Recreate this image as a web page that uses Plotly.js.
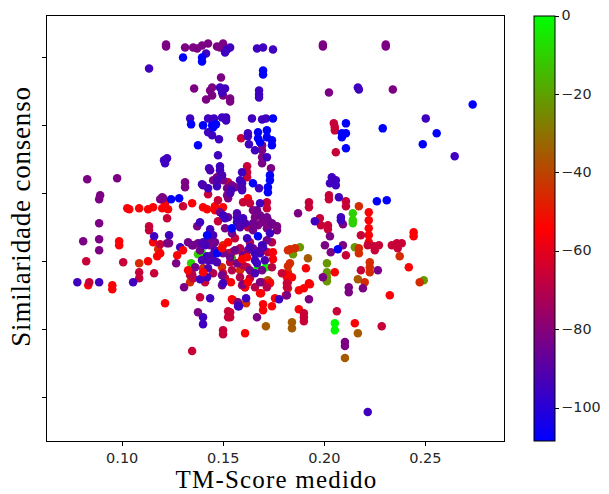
<!DOCTYPE html>
<html><head><meta charset="utf-8"><script src="https://cdn.plot.ly/plotly-3.0.1.min.js"></script>
<style>html,body{margin:0;padding:0;background:#fff}
.g-ytitle{transform:translate(7px,-12px)}
.g-xtitle{transform:translate(1px,0px)}
.xtitle{letter-spacing:1.2px}
.ytitle{letter-spacing:.8px}
.colorbar text{font-size:14.3px !important}</style></head><body><div id="c" style="width:609px;height:494px"></div>
<script>
const blueX=[.1301,.1395,.1395,.1697,.1697,.2734,.1746,.1341,.14,.1445,.1464,.145,.1672,.1672,.1682,.1716,.1716,.1741,.1741,.1375,.2107,.2107,.2087,.2087,.2107,.2289,.2556,.2487,.1647,.1731,.1731,.1721,.1721,.1242,.1282,.1543,.142,.1672,.1469,.2067,.226,.2309];
const blueY=[340,340,336,327,323,293,279,273,272,272,273,270,265,259,255,267,260,257,252,252,274,264,264,260,249,269,264,253,214,222,217,210,205,198,199,169,162,161,144,148,196,197];
const indigoX=[.1519,.1534,.1509,.1415,.1667,.1697,.1746,.1133,.1484,.1509,.1494,.1677,.1677,.1677,.2166,.2171,.1336,.1425,.1454,.1494,.1514,.1514,.1642,.1692,.1711,.1425,.1445,.1479,.1622,.1622,.1627,.1657,.1716,.1474,.1222,.1207,.1212,.2502,.2645,.143,.1484,.1484,.1593,.1583,.1593,.1593,.1395,.1425,.1469,.1538,.1677,.2037,.2028,.2057,.2057,.2072,.2082,.2082,.1953,.1499,.1509,.1385,.1435,.1568,.1568,.1598,.1682,.1618,.1692,.1731,.1287,.141,.142,.1435,.145,.1158,.1232,.1657,.1657,.1682,.1667,.1697,.142,.1385,.0778,.0886,.1054,.1499,.1435,.14,.14,.1573,.1613,.1578,.1776,.2215];
const indigoY=[348,350,345,344,349,350,348,329,310,309,305,307,303,300,310,308,279,279,279,280,280,277,279,278,279,265,262,258,264,261,253,247,240,242,239,237,234,279,241,229,231,227,225,217,214,207,213,209,211,207,209,220,214,217,212,200,180,177,176,182,179,175,168,180,175,179,194,159,152,164,150,152,141,137,137,161,162,144,137,144,134,150,120,118,115,115,115,114,99,80,73,91,99,91,98,-15];
const moreIndigoX=[.1568,.1593,.1534,.1494,.1469,.14,.1435,.1469,.1425,.1395,.1425,.1657,.1706,.1682,.1632,.1459,.1445,.1395,.1583,.1608,.145,.14];
const moreIndigoY=[184,209,204,222,217,212,227,135,137,137,129,124,137,147,150,147,142,154,170,174,162,155];
const purpleX=[.1217,.1217,.1311,.1351,.1371,.1395,.1425,.1469,.1499,.1484,.1993,.1993,.2304,.2304,.1489,.1356,.1445,.1435,.1415,.1445,.1499,.1534,.1534,.2023,.2339,.1692,.1692,.1692,.1692,.0827,.0975,.1311,.1311,.0891,.0886,.1469,.145,.1499,.1484,.1543,.1736,.1188,.1198,.0886,.0807,.0886,.0886,.1222,.1232,.1203,.1524,.1519,.1371,.1509,.1647,.1657,.1721,.1692,.1766,.1766,.1731,.1716,.1672,.1435,.1375,.1346,.1267,.1306,.1598,.1682,.187,.2092,.2028,.2003,.2032,.2092,.1993,.2265,.2121,.2121,.2191,.1815,.1924,.1667,.1375,.1573,.2102,.2102,.1622];
const purpleY=[351,353,350,350,349,352,354,351,354,350,351,353,351,353,320,309,310,307,298,302,302,299,296,305,308,252,247,240,234,218,219,215,210,202,198,220,217,217,222,212,229,198,200,174,156,158,147,154,154,199,199,202,171,169,187,180,177,175,167,171,172,169,172,152,154,152,134,110,113,115,184,173,161,152,145,152,120,127,110,105,109,102,98,80,85,95,55,51,147];
const morePurpleX=[.1558,.1519,.1647,.1558,.1534,.1499,.1361,.1494,.1568,.1632,.1692,.1716,.1647,.1598,.1494,.1385,.1351,.1326,.1459,.1524,.1484,.1682,.1716,.1741,.1667,.1647,.1543,.1425];
const morePurpleY=[210,209,167,147,140,144,130,122,134,127,127,157,149,142,112,147,152,155,155,180,185,182,180,174,187,174,164,157];
const crimsonX=[.1588,.2047,.2052,.2052,.2057,.1618,.1618,.1618,.1524,.1425,.1222,.0822,.1005,.1084,.1084,.1158,.1133,.1133,.1188,.0837,.1301,.1474,.1474,.1598,.1632,.1716,.1716,.1558,.1336,.1351,.141,.1499,.1509,.1534,.1568,.1618,.1632,.1721,.1692,.1385,.2023,.2023,.1924,.1924,.2107,.2107,.1978,.1983,.2018,.2018,.2181,.2107,.2245,.225,.227,.2215,.2334,.2359,.2383,.2363,.2181,.179,.1815,.181,.1815,.1899,.1899,.1899,.2062,.2284,.1524,.1524,.1499,.1499,.1346,.1534,.1534];
const crimsonY=[259,274,270,267,245,231,225,220,215,203,179,136,135,125,119,124,167,171,153,115,191,197,176,195,194,195,189,159,122,119,115,124,119,135,147,130,119,145,115,100,202,198,195,190,196,191,179,172,172,168,162,142,151,147,152,152,152,154,154,149,127,124,114,102,110,84,80,76,86,71,86,80,67,63,46,85,80];
const moreCrimsonX=[.1632,.1583,.1543,.1524,.1346,.145,.1598,.1583,.1741,.1741,.1657,.1716,.1593,.1543,.1622];
const moreCrimsonY=[155,149,145,144,123,124,132,120,130,155,110,110,112,127,170];
const redX=[.0985,.0985,.1128,.0832,.0951,.0951,.1025,.1035,.1084,.1128,.1153,.1198,.1227,.1212,.1153,.1173,.1188,.1346,.14,.142,.1459,.1499,.1459,.1622,.1608,.222,.222,.222,.222,.222,.2442,.2442,.2052,.1909,.2418,.2324,.1924,.1899,.1874,.184,.1815,.1212,.1543,.1608,.1874,.2151,.1697,.1697,.1741,.1687,.1731,.1608,.1548,.1929,.1756,.1815];
const redY=[156,152,136,112,112,108,189,188,189,188,190,189,188,194,155,141,144,194,190,188,191,190,187,199,110,185,177,169,162,155,165,161,125,129,130,102,114,109,107,120,122,94,98,64,88,74,93,87,91,104,114,110,97,113,99,120];
const topRedX=[.1524,.1593,.1618,.1494,.1746,.1746,.1622,.1682,.1538,.14,.1301,.1272,.1326];
const topRedY=[155,138,140,149,145,138,115,104,115,125,147,142,127];
const orangeX=[.1084,.1178,.1499,.14,.1336,.1494,.1583,.1731,.182,.183,.2171,.2171,.2171,.183,.1855,.2373,.2225,.2225,.2225,.182,.182,.2472,.22,.182,.1613,.182];
const orangeY=[134,148,152,129,115,130,127,115,147,134,191,149,144,148,149,141,135,130,125,131,125,115,115,109,94,115];
const brownX=[.1711,.184,.184,.2166,.2102,.2166,.1919,.1721];
const brownY=[71,75,69,64,39,118,139,117];
const oliveX=[.1879,.1845,.2013,.2013,.2013,.2013,.2492,.2151];
const oliveY=[150,143,134,125,120,116,117,150];
const greenX=[.2141,.2141,.2141,.1395,.1375,.1341,.1543];
const greenY=[184,177,174,144,143,134,139];
const limeX=[.2052,.2052,.1672,.1711];
const limeY=[74,67,129,130];
const levels=[[oliveX,oliveY,-22],[greenX,greenY,-10],[limeX,limeY,-1],[brownX,brownY,-35],[orangeX,orangeY,-45],[redX,redY,-55],[crimsonX,crimsonY,-66],[moreCrimsonX,moreCrimsonY,-70],[purpleX,purpleY,-82],[morePurpleX,morePurpleY,-84],[indigoX,indigoY,-95],[moreIndigoX,moreIndigoY,-92],[blueX,blueY,-108],[topRedX,topRedY,-55]];
const traces=levels.map(l=>({type:'scatter',mode:'markers',x:l[0],y:l[1],
  marker:{size:8.5,color:l[0].map(()=>l[2]),coloraxis:'coloraxis',line:{width:0}},hoverinfo:'skip',showlegend:false}));
const tickFont={family:'DejaVu Sans',size:14.5,color:'#262626'};
const cbFont={family:'DejaVu Sans',size:12,color:'#262626'};
const titleFont={family:'Liberation Serif',size:25,color:'#000'};
Plotly.newPlot('c',traces,{
  width:609,height:494,autosize:false,paper_bgcolor:'#fff',plot_bgcolor:'#fff',
  margin:{l:47,r:105,t:15.5,b:53,pad:0},
  xaxis:{range:[.0628,.2889],tickvals:[.1,.15,.2,.25],ticktext:['0.10','0.15','0.20','0.25'],ticks:'outside',ticklen:4,tickwidth:1,tickcolor:'#000',showgrid:false,zeroline:false,showline:true,linecolor:'#000',linewidth:1,mirror:true,tickfont:tickFont,title:{text:'TM-Score medido',font:titleFont,standoff:5}},
  yaxis:{range:[-44,381.5],tickvals:[0,68,136,204,272,340],showticklabels:false,ticks:'outside',ticklen:4,tickwidth:1,tickcolor:'#000',showgrid:false,zeroline:false,showline:true,linecolor:'#000',linewidth:1,mirror:true,title:{text:'Similaridade consenso',font:{family:'Liberation Serif',size:27,color:'#000'},standoff:10}},
  coloraxis:{cmin:-108.4,cmax:0,colorscale:[[0,'#0000ff'],[.5,'#ff0000'],[1,'#00ff00']],
    colorbar:{x:1.0646,xanchor:'left',xref:'paper',y:0,yanchor:'bottom',len:1,lenmode:'fraction',thickness:20.5,thicknessmode:'pixels',xpad:0,ypad:0,outlinecolor:'#000',outlinewidth:1,tickvals:[0,-20,-40,-60,-80,-100],ticktext:['0','−20','−40','−60','−80','−100'],ticks:'outside',ticklen:4,tickwidth:1,tickcolor:'#000',tickfont:cbFont}}
},{displayModeBar:false,staticPlot:true});
</script></body></html>
